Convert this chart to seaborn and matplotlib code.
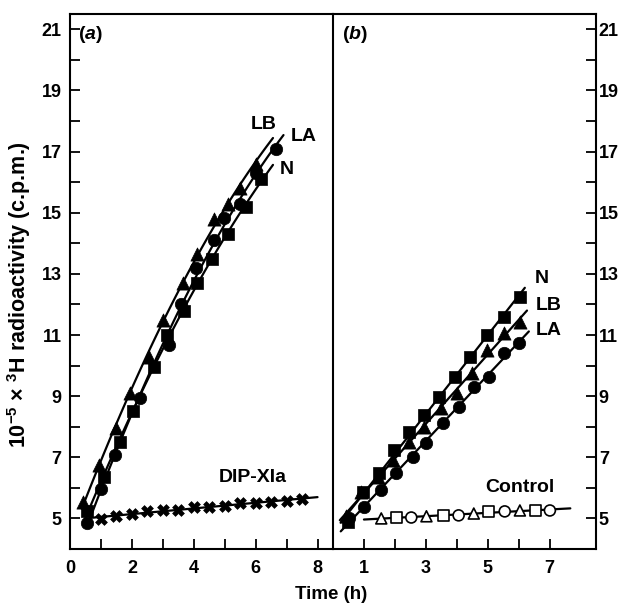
import numpy as np
import pandas as pd
import matplotlib
matplotlib.use("Agg")
import matplotlib.pyplot as plt
import seaborn as sns
from matplotlib.ticker import FixedLocator

# ---------------- data ----------------
# Panel (a)
a_lb_t = [0.42, 0.94, 1.50, 1.95, 2.56, 3.00, 3.64, 4.10, 4.65, 5.10, 5.50, 6.00]
a_lb_y = [5.55, 6.76, 7.96, 9.10, 10.28, 11.50, 12.70, 13.66, 14.80, 15.30, 15.80, 16.60]
a_n_t = [0.55, 1.10, 1.60, 2.05, 2.70, 3.15, 3.67, 4.10, 4.60, 5.10, 5.70, 6.17]
a_n_y = [5.23, 6.37, 7.50, 8.50, 9.95, 11.00, 11.80, 12.70, 13.50, 14.30, 15.20, 16.10]
a_la_t = [0.55, 1.00, 1.45, 2.27, 3.21, 3.60, 4.06, 4.65, 4.97, 5.50, 6.00, 6.66]
a_la_y = [4.85, 5.95, 7.08, 8.94, 10.67, 12.00, 13.20, 14.10, 14.84, 15.30, 16.30, 17.08]
a_dip_t = [1.0, 1.5, 2.0, 2.5, 3.0, 3.5, 4.0, 4.5, 5.0, 5.5, 6.0, 6.5, 7.0, 7.5]
a_dip_y = [4.97, 5.07, 5.16, 5.23, 5.26, 5.29, 5.36, 5.39, 5.42, 5.49, 5.52, 5.55, 5.57, 5.62]

# Panel (b)
b_n_t = [0.49, 0.97, 1.49, 1.98, 2.47, 2.95, 3.41, 3.93, 4.42, 4.97, 5.52, 6.04]
b_n_y = [4.87, 5.85, 6.50, 7.25, 7.83, 8.39, 8.97, 9.63, 10.28, 11.00, 11.58, 12.23]
b_lb_t = [0.42, 0.91, 1.46, 1.95, 2.47, 2.95, 3.50, 4.00, 4.48, 4.97, 5.52, 6.04]
b_lb_y = [5.07, 5.85, 6.37, 6.92, 7.50, 8.00, 8.60, 9.10, 9.75, 10.50, 11.06, 11.42]
b_la_t = [0.52, 1.00, 1.56, 2.05, 2.60, 3.02, 3.57, 4.06, 4.55, 5.03, 5.52, 6.00]
b_la_y = [5.00, 5.39, 5.94, 6.50, 7.02, 7.47, 8.13, 8.65, 9.30, 9.63, 10.40, 10.73]
ctrl_t = [1.56, 2.05, 2.53, 3.02, 3.57, 4.06, 4.55, 5.03, 5.55, 6.04, 6.53, 7.01]
ctrl_y = [5.00, 5.03, 5.03, 5.07, 5.10, 5.10, 5.16, 5.23, 5.23, 5.26, 5.26, 5.26]
ctrl_shape = ["tri", "sq", "circ"] * 4

# fitted-line extents (time range covered by each drawn line)
a_lb_span, a_n_span, a_la_span = [0.38, 6.56], [0.45, 6.56], [0.55, 6.90]
a_dip_span = [0.65, 8.0]
b_n_span, b_lb_span, b_la_span = [0.25, 6.20], [0.22, 6.27], [0.25, 6.33]
ctrl_span = [1.0, 7.67]

y_major = [5, 7, 9, 11, 13, 15, 17, 19, 21]
y_minor = [6, 8, 10, 12, 14, 16, 18, 20]
a_x_major = [0, 2, 4, 6, 8]
a_x_minor = [1, 3, 5, 7]
b_x_major = [1, 3, 5, 7]
b_x_minor = [2, 4, 6]

# ---------------- style ----------------
sns.set_theme(style="ticks")
plt.rcParams["font.family"] = ["Liberation Sans", "DejaVu Sans"]
plt.rcParams["font.weight"] = "bold"
plt.rcParams["mathtext.fontset"] = "custom"
plt.rcParams["mathtext.rm"] = "Liberation Sans:bold"
plt.rcParams["mathtext.it"] = "Liberation Sans:italic:bold"
plt.rcParams["mathtext.bf"] = "Liberation Sans:bold"
plt.rcParams["axes.linewidth"] = 1.5
plt.rcParams["text.color"] = "black"

fig = plt.figure(figsize=(6.22, 6.07), dpi=100)
ax1 = fig.add_axes([70 / 622, 1 - 549 / 607, 263 / 622, 535 / 607])
ax2 = fig.add_axes([333 / 622, 1 - 549 / 607, 263 / 622, 535 / 607])

LW = 1.6


def fit_line(ax, t, y, span, order):
    coef = np.polyfit(t, y, order)
    tt = np.linspace(span[0], span[1], 60)
    sns.lineplot(x=tt, y=np.polyval(coef, tt), ax=ax, color="black",
                 linewidth=LW, legend=False, sort=False)


def filled(ax, t, y, marker, size):
    df = pd.DataFrame({"t": t, "y": y})
    sns.scatterplot(data=df, x="t", y="y", ax=ax, marker=marker, s=size,
                    color="black", edgecolor="black", linewidth=0.5,
                    legend=False, zorder=3)


# Panel (a)
fit_line(ax1, a_lb_t, a_lb_y, a_lb_span, 2)
fit_line(ax1, a_n_t, a_n_y, a_n_span, 2)
fit_line(ax1, a_la_t, a_la_y, a_la_span, 2)
fit_line(ax1, a_dip_t, a_dip_y, a_dip_span, 1)
filled(ax1, a_lb_t, a_lb_y, "^", 90)
filled(ax1, a_n_t, a_n_y, "s", 70)
filled(ax1, a_la_t, a_la_y, "o", 80)
filled(ax1, a_dip_t, a_dip_y, "X", 72)

# Panel (b)
fit_line(ax2, b_n_t, b_n_y, b_n_span, 1)
fit_line(ax2, b_lb_t, b_lb_y, b_lb_span, 1)
fit_line(ax2, b_la_t, b_la_y, b_la_span, 1)
fit_line(ax2, ctrl_t, ctrl_y, ctrl_span, 1)
filled(ax2, b_n_t, b_n_y, "s", 70)
filled(ax2, b_lb_t, b_lb_y, "^", 90)
filled(ax2, b_la_t, b_la_y, "o", 80)
cdf = pd.DataFrame({"t": ctrl_t, "y": ctrl_y, "shape": ctrl_shape})
sns.scatterplot(data=cdf, x="t", y="y", style="shape", ax=ax2,
                markers={"tri": "^", "sq": "s", "circ": "o"}, s=62,
                color="white", edgecolor="black", linewidth=1.2,
                legend=False, zorder=3)

TICK = 13
ANN = 14
for ax in (ax1, ax2):
    ax.set_xlim(0, 8.5)
    ax.set_ylim(4, 21.5)
    ax.set_xlabel("")
    ax.set_ylabel("")
    ax.yaxis.set_major_locator(FixedLocator(y_major))
    ax.yaxis.set_minor_locator(FixedLocator(y_minor))
    ax.tick_params(which="both", direction="in", length=7, width=1.3,
                   labelsize=TICK, top=False, colors="black")
    ax.tick_params(axis="x", which="both", pad=8)
    for s in ax.spines.values():
        s.set_color("black")
        s.set_linewidth(1.5)
    for lab in ax.get_xticklabels() + ax.get_yticklabels():
        lab.set_fontweight("bold")

ax1.xaxis.set_major_locator(FixedLocator(a_x_major))
ax1.xaxis.set_minor_locator(FixedLocator(a_x_minor))
ax2.xaxis.set_major_locator(FixedLocator(b_x_major))
ax2.xaxis.set_minor_locator(FixedLocator(b_x_minor))

ax1.tick_params(which="both", left=True, right=False, labelleft=True)
ax1.tick_params(axis="y", pad=6)
ax1.spines["right"].set_visible(False)
ax2.tick_params(which="both", left=False, right=True,
                labelleft=False, labelright=True)
ax2.tick_params(axis="y", pad=2)

ax1.text(0.03, 0.962, r"($\mathit{a}$)", transform=ax1.transAxes,
         fontsize=ANN, ha="left", va="center")
ax2.text(0.035, 0.962, r"($\mathit{b}$)", transform=ax2.transAxes,
         fontsize=ANN, ha="left", va="center")

ax1.text(6.27, 17.9, "LB", fontsize=ANN, ha="center", va="center")
ax1.text(7.56, 17.5, "LA", fontsize=ANN, ha="center", va="center")
ax1.text(7.0, 16.4, "N", fontsize=ANN, ha="center", va="center")
ax1.text(5.9, 6.34, "DIP-XIa", fontsize=ANN, ha="center", va="center")

ax2.text(6.75, 12.85, "N", fontsize=ANN, ha="center", va="center")
ax2.text(6.98, 11.97, "LB", fontsize=ANN, ha="center", va="center")
ax2.text(6.98, 11.16, "LA", fontsize=ANN, ha="center", va="center")
ax2.text(6.04, 6.0, "Control", fontsize=ANN, ha="center", va="center")

fig.text(0.532, 0.02, "Time (h)", fontsize=13.5, ha="center", va="center")
fig.text(0.031, 0.515, r"10$^{-5}$ × $^{3}$H radioactivity (c.p.m.)",
         fontsize=15.5, rotation=90, ha="center", va="center")

fig.savefig("out.png", dpi=100)
